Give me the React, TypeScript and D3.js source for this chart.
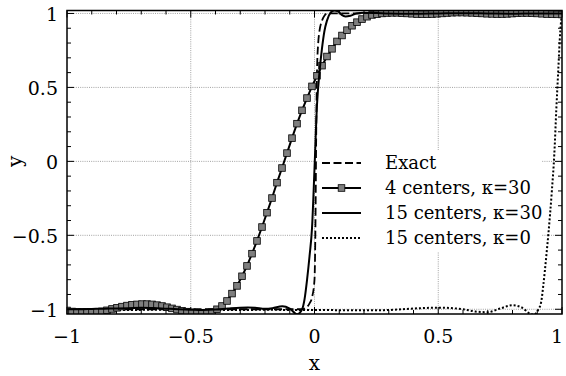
import React from "react";
import * as d3 from "d3";

// ---- data ----
const X4 = [
  -1, -0.9798, -0.9596, -0.9394, -0.9192, -0.899, -0.8788, -0.8586, -0.8384, -0.8182,
  -0.798, -0.7778, -0.7576, -0.7374, -0.7172, -0.697, -0.6768, -0.6566, -0.6364, -0.6162,
  -0.596, -0.5758, -0.5556, -0.5354, -0.5152, -0.4949, -0.4747, -0.4545, -0.4343, -0.4141,
  -0.3939, -0.3737, -0.3535, -0.3333, -0.3131, -0.2929, -0.2727, -0.2525, -0.2323, -0.2121,
  -0.1919, -0.1717, -0.1515, -0.1313, -0.1111, -0.0909, -0.0707, -0.0505, -0.0303, -0.0101,
  0.0101, 0.0303, 0.0505, 0.0707, 0.0909, 0.1111, 0.1313, 0.1515, 0.1717, 0.1919,
  0.2121, 0.2323, 0.2525, 0.2727, 0.2929, 0.3131, 0.3333, 0.3535, 0.3737, 0.3939,
  0.4141, 0.4343, 0.4545, 0.4747, 0.4949, 0.5152, 0.5354, 0.5556, 0.5758, 0.596,
  0.6162, 0.6364, 0.6566, 0.6768, 0.697, 0.7172, 0.7374, 0.7576, 0.7778, 0.798,
  0.8182, 0.8384, 0.8586, 0.8788, 0.899, 0.9192, 0.9394, 0.9596, 0.9798, 1,
];
const Y4 = [
  -1.008, -1.015, -1.018, -1.02, -1.02, -1.02, -1.018, -1.014, -1.007, -0.998,
  -0.99, -0.982, -0.975, -0.97, -0.967, -0.965, -0.965, -0.967, -0.972, -0.978,
  -0.986, -0.994, -1.002, -1.01, -1.016, -1.021, -1.024, -1.025, -1.024, -1.02,
  -1.0, -0.978, -0.944, -0.894, -0.842, -0.777, -0.707, -0.624, -0.538, -0.444,
  -0.347, -0.248, -0.144, -0.045, 0.056, 0.157, 0.255, 0.345, 0.428, 0.507,
  0.579, 0.647, 0.709, 0.761, 0.811, 0.851, 0.887, 0.917, 0.941, 0.962,
  0.978, 0.99, 0.995, 1.0, 1.003, 1.004, 1.004, 1.002, 1.0, 0.998,
  0.996, 0.995, 0.995, 0.996, 0.998, 1.0, 1.003, 1.005, 1.006, 1.006,
  1.005, 1.004, 1.002, 1.0, 0.998, 0.997, 0.996, 0.996, 0.997, 0.999,
  1.001, 1.003, 1.003, 1.002, 1.0, 0.998, 0.996, 0.995, 0.994, 0.993,
];

const EXACT_X = [-1, -0.06, -0.04, -0.03, -0.02, -0.01, 0, 0.004, 0.007, 0.01, 0.015, 0.02, 0.03, 0.04, 0.05, 0.06, 1];
const EXACT_Y = [-1, -1, -0.995, -0.985, -0.96, -0.92, -0.8, -0.4, 0.2, 0.6, 0.8, 0.88, 0.95, 0.985, 0.998, 1, 1];

const C15_X = [
  -1, -0.95, -0.9, -0.85, -0.8, -0.75, -0.7, -0.65, -0.6, -0.55, -0.5, -0.45, -0.4, -0.35, -0.3,
  -0.27, -0.24, -0.2, -0.17, -0.13, -0.1, -0.07, -0.05, -0.04, -0.03, -0.02, -0.01, 0, 0.01, 0.02,
  0.03, 0.04, 0.05, 0.065, 0.08, 0.095, 0.11, 0.125, 0.145, 0.17, 0.2, 0.25, 0.3, 0.4, 0.5, 0.6,
  0.7, 0.8, 0.9, 1,
];
const C15_Y = [
  -1.0, -1.0, -0.998, -0.996, -0.995, -0.993, -0.99, -0.992, -0.996, -1.0, -1.003, -1.005, -1.002, -0.995, -0.989,
  -0.988, -0.99, -0.997, -0.993, -0.98, -0.995, -1.034, -1.0, -0.93, -0.8, -0.64, -0.45, -0.05, 0.38, 0.6,
  0.76, 0.88, 0.95, 1.005, 1.02, 1.015, 0.99, 0.98, 0.985, 1.0, 1.005, 1.003, 1.0, 0.998, 1.0, 1.002,
  1.0, 0.998, 1.0, 1.0,
];

const K0_X = [
  -1, -0.8, -0.6, -0.4, -0.2, 0, 0.1, 0.225, 0.3, 0.4, 0.5, 0.6, 0.65, 0.7, 0.75, 0.8, 0.84, 0.87, 0.885,
  0.905, 0.916, 0.925, 0.936, 0.945, 0.959, 0.969, 0.977, 0.985, 0.993, 1,
];
const K0_Y = [
  -1.003, -1.005, -1.003, -1.005, -1.004, -1.005, -1.006, -1.007, -1.005, -0.995, -0.989, -1.0, -1.015, -1.02, -0.995, -0.973, -0.99, -1.03, -1.036,
  -1.0, -0.95, -0.83, -0.65, -0.49, -0.2, 0.05, 0.35, 0.62, 0.88, 1.0,
];

const X_TICKS = [-1, -0.5, 0, 0.5, 1];
const Y_TICKS = [-1, -0.5, 0, 0.5, 1];
const X_TICK_LABELS = ["\u22121", "\u22120.5", "0", "0.5", "1"];
const Y_TICK_LABELS = ["\u22121", "\u22120.5", "0", "0.5", "1"];
const LEGEND = ["Exact", "4 centers, \u03ba=30", "15 centers, \u03ba=30", "15 centers, \u03ba=0"];

const W = 566;
const H = 376;
const L = 67, R = 562, T = 10.5, B = 314;
const FONT = "'DejaVu Serif', serif";

export default function App() {
  const x = d3.scaleLinear().domain([-1, 1]).range([L, R]);
  const y = d3.scaleLinear().domain([-1.032, 1.02]).range([B, T]);

  const mk = (xs: number[], ys: number[], curve: any) =>
    d3.line<number>().x((_, i) => x(xs[i])).y((v) => y(v)).curve(curve)(ys) || "";

  const exactPath = mk(EXACT_X, EXACT_Y, d3.curveMonotoneX);
  const c4Path = mk(X4, Y4, d3.curveLinear);
  const c15Path = mk(C15_X, C15_Y, d3.curveMonotoneX);
  const k0Path = mk(K0_X, K0_Y, d3.curveMonotoneX);

  const minorX = d3.range(-10, 11).map((i) => i / 10);
  const minorY = d3.range(-10, 11).map((i) => i / 10);

  const gridStyle = { stroke: "#8a8a8a", strokeWidth: 0.8, strokeDasharray: "1,1.2" };
  const lx0 = 322, lx1 = 361, ly0 = 163, ldy = 25;
  const MS = 6.6;

  return (
    <svg width={W} height={H} style={{ position: "absolute", left: 0, top: 0, background: "#fff" }}>
      <defs>
        <clipPath id="plotclip">
          <rect x={L} y={T} width={R - L} height={B - T} />
        </clipPath>
      </defs>
      {/* grid */}
      {X_TICKS.filter((v) => v > -1 && v < 1).map((v) => (
        <line key={"gx" + v} x1={x(v)} x2={x(v)} y1={T} y2={B} style={gridStyle} />
      ))}
      {Y_TICKS.map((v) => (
        <line key={"gy" + v} x1={L} x2={R} y1={y(v)} y2={y(v)} style={gridStyle} />
      ))}
      {/* ticks */}
      {minorX.map((v, i) => {
        const len = i % 5 === 0 ? 7 : 4;
        return (
          <g key={"tx" + i} stroke="#000" strokeWidth={1}>
            <line x1={x(v)} x2={x(v)} y1={B} y2={B - len} />
            <line x1={x(v)} x2={x(v)} y1={T} y2={T + len} />
          </g>
        );
      })}
      {minorY.map((v, i) => {
        if (y(v) < T || y(v) > B) return null;
        const len = i % 5 === 0 ? 7 : 4;
        return (
          <g key={"ty" + i} stroke="#000" strokeWidth={1}>
            <line x1={L} x2={L + len} y1={y(v)} y2={y(v)} />
            <line x1={R} x2={R - len} y1={y(v)} y2={y(v)} />
          </g>
        );
      })}
      {/* curves */}
      <g clipPath="url(#plotclip)" fill="none">
        <path d={k0Path} stroke="#000" strokeWidth={2} strokeDasharray="2,2" />
        <path d={exactPath} stroke="#000" strokeWidth={1.8} strokeDasharray="8,3.5" />
        <path d={c4Path} stroke="#000" strokeWidth={2} />
        {X4.map((v, i) => (
          <rect key={"m" + i} x={x(v) - MS / 2} y={y(Y4[i]) - MS / 2} width={MS} height={MS} fill="#7f7f7f" stroke="#000" strokeWidth={0.8} />
        ))}
        <path d={c15Path} stroke="#000" strokeWidth={2} />
      </g>
      {/* legend */}
      <rect x={318} y={150} width={223} height={102} fill="#fff" />
      {LEGEND.map((t, i) => {
        const yy = ly0 + i * ldy;
        return (
          <g key={"lg" + i}>
            {i === 0 && <line x1={lx0} x2={lx1} y1={yy} y2={yy} stroke="#000" strokeWidth={1.8} strokeDasharray="8,3.5" />}
            {i === 1 && (
              <g>
                <line x1={lx0} x2={lx1} y1={yy} y2={yy} stroke="#000" strokeWidth={2} />
                <rect x={(lx0 + lx1) / 2 - MS / 2} y={yy - MS / 2} width={MS} height={MS} fill="#7f7f7f" stroke="#000" strokeWidth={0.8} />
              </g>
            )}
            {i === 2 && <line x1={lx0} x2={lx1} y1={yy} y2={yy} stroke="#000" strokeWidth={2} />}
            {i === 3 && <line x1={lx0} x2={lx1} y1={yy} y2={yy} stroke="#000" strokeWidth={2} strokeDasharray="2,2" />}
            <text x={385} y={yy} dy="0.35em" fontFamily={FONT} fontSize={18} fill="#000">
              {t}
            </text>
          </g>
        );
      })}
      {/* frame */}
      <rect x={L} y={T} width={R - L} height={B - T} fill="none" stroke="#000" strokeWidth={1.5} />
      {/* tick labels */}
      {X_TICKS.map((v, i) => (
        <text key={"xl" + i} x={Math.min(x(v), 557)} y={343} textAnchor="middle" fontFamily={FONT} fontSize={19} fill="#000">
          {X_TICK_LABELS[i]}
        </text>
      ))}
      {Y_TICKS.map((v, i) => (
        <text key={"yl" + i} x={58} y={y(v)} dy="0.4em" textAnchor="end" fontFamily={FONT} fontSize={19} fill="#000">
          {Y_TICK_LABELS[i]}
        </text>
      ))}
      <text x={x(0)} y={370} textAnchor="middle" fontFamily={FONT} fontSize={20} fill="#000">x</text>
      <text transform={`translate(22,${y(0)}) rotate(-90)`} textAnchor="middle" fontFamily={FONT} fontSize={20} fill="#000">y</text>
    </svg>
  );
}
